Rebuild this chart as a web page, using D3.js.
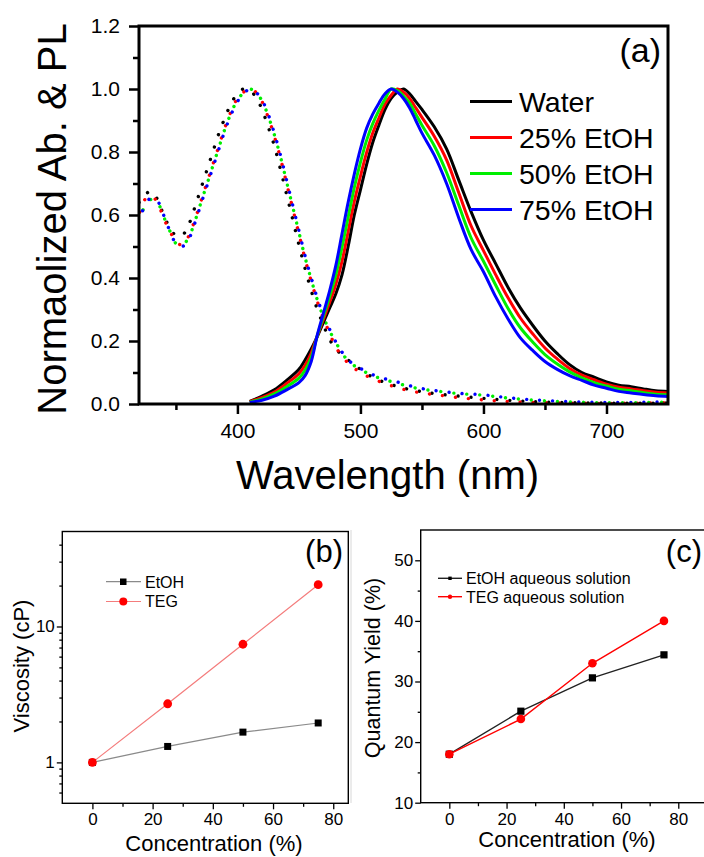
<!DOCTYPE html>
<html>
<head>
<meta charset="utf-8">
<script src="https://cdn.jsdelivr.net/npm/d3@7"></script>
<style>
  body { margin: 0; background: #fff; }
  svg { display: block; }
</style>
</head>
<body>
<svg id="fig" width="704" height="857"></svg>
<script>
// ---- panel (a): absorption (dotted) and PL (solid) spectra ----
var absWl = [320,325,330,335,340,345,350,355,360,365,370,375,380,385,390,395,400,405,410,415,420,425,430,435,440,445,450,455,460,465,470,475,480,490,500,510,520,530,540,550,560,580,600,620,650,700,750];
var absWater = [0.64,0.665,0.675,0.65,0.60,0.56,0.535,0.535,0.565,0.62,0.68,0.74,0.80,0.86,0.91,0.955,0.985,1.0,0.995,0.975,0.935,0.88,0.82,0.745,0.665,0.585,0.505,0.43,0.36,0.30,0.25,0.205,0.175,0.14,0.11,0.085,0.068,0.056,0.046,0.039,0.033,0.025,0.018,0.012,0.006,0.003,0.003];
var absE25 = [0.60,0.65,0.66,0.64,0.59,0.55,0.515,0.505,0.53,0.58,0.64,0.70,0.76,0.82,0.88,0.93,0.97,0.99,1.0,0.99,0.96,0.91,0.85,0.78,0.70,0.62,0.54,0.46,0.39,0.325,0.27,0.225,0.18,0.13,0.10,0.08,0.065,0.052,0.042,0.035,0.03,0.02,0.013,0.008,0.004,0.002,0.004];
var absE50 = [0.60,0.625,0.65,0.64,0.595,0.55,0.51,0.505,0.525,0.575,0.635,0.695,0.755,0.815,0.875,0.925,0.965,0.988,1.0,0.99,0.962,0.915,0.855,0.785,0.705,0.625,0.545,0.465,0.395,0.33,0.275,0.232,0.195,0.137,0.11,0.09,0.077,0.066,0.055,0.047,0.042,0.033,0.028,0.019,0.01,0.004,0.006];
var absE75 = [0.585,0.63,0.655,0.645,0.60,0.55,0.51,0.50,0.52,0.57,0.63,0.69,0.75,0.81,0.87,0.92,0.96,0.985,1.0,0.99,0.965,0.92,0.86,0.79,0.71,0.63,0.55,0.47,0.40,0.335,0.28,0.237,0.197,0.14,0.113,0.093,0.08,0.07,0.058,0.049,0.043,0.034,0.029,0.02,0.011,0.005,0.007];

var plWl = [410,420,430,440,450,455,460,465,470,475,480,485,490,495,500,505,510,515,520,525,530,535,540,545,550,560,570,580,590,600,610,620,630,640,650,660,670,680,690,700,710,720,730,740,750];
var plWater = [0.008,0.025,0.045,0.075,0.11,0.14,0.175,0.215,0.26,0.305,0.35,0.41,0.50,0.60,0.68,0.76,0.83,0.885,0.935,0.97,0.99,1.0,0.985,0.96,0.935,0.88,0.81,0.71,0.61,0.52,0.445,0.37,0.305,0.25,0.20,0.16,0.125,0.10,0.085,0.07,0.06,0.055,0.048,0.042,0.04];
var plE25 = [0.007,0.021,0.038,0.065,0.096,0.123,0.162,0.217,0.27,0.323,0.38,0.453,0.547,0.643,0.723,0.798,0.86,0.908,0.952,0.98,1.0,0.99,0.97,0.94,0.91,0.85,0.775,0.67,0.565,0.487,0.41,0.337,0.273,0.223,0.178,0.143,0.113,0.092,0.077,0.063,0.053,0.048,0.042,0.037,0.035];
var plE50 = [0.006,0.016,0.032,0.055,0.082,0.107,0.148,0.218,0.28,0.342,0.41,0.497,0.593,0.687,0.767,0.837,0.89,0.932,0.968,1.0,0.995,0.978,0.955,0.92,0.885,0.82,0.735,0.63,0.527,0.453,0.377,0.303,0.242,0.197,0.157,0.127,0.102,0.083,0.068,0.057,0.047,0.042,0.036,0.031,0.029];
var plE75 = [0.005,0.012,0.025,0.045,0.068,0.09,0.135,0.22,0.29,0.36,0.44,0.54,0.64,0.73,0.81,0.875,0.92,0.955,0.985,1.0,0.99,0.97,0.94,0.90,0.86,0.79,0.70,0.59,0.49,0.42,0.34,0.27,0.21,0.17,0.135,0.11,0.09,0.075,0.06,0.05,0.04,0.035,0.03,0.026,0.024];

var seriesNames = ["Water", "25% EtOH", "50% EtOH", "75% EtOH"];
var seriesColors = ["#000000", "#ff0000", "#00ee00", "#0000ff"];
var absSeries = [absWater, absE25, absE50, absE75];
var plSeries = [plWater, plE25, plE50, plE75];

var wlTicks = [400, 500, 600, 700];
var wlMinor = [350, 450, 550, 650];
var normTicks = [0, 0.2, 0.4, 0.6, 0.8, 1.0, 1.2];
var normMinor = [0.1, 0.3, 0.5, 0.7, 0.9, 1.1];

// ---- panels (b) and (c) ----
var conc = [0, 25, 50, 75];
var viscEtOH = [1.0, 1.31, 1.67, 1.95];
var viscTEG = [1.0, 2.7, 7.4, 20.3];
var qyEtOH = [18.0, 25.1, 30.6, 34.4];
var qyTEG = [18.0, 23.8, 33.0, 40.0];

var concTicks = [0, 20, 40, 60, 80];
var concMinor = [10, 30, 50, 70];
var viscTicks = [1, 10];
var viscMinor = [0.6, 0.7, 0.8, 0.9, 2, 3, 4, 5, 6, 7, 8, 9, 20, 30, 40];
var qyTicks = [10, 20, 30, 40, 50];
var qyMinor = [15, 25, 35, 45];

var FONT = '"Liberation Sans", Arial, Helvetica, sans-serif';
var svg = d3.select("#fig");

function styleAxis(g, fs, sw) {
    g.select(".domain").remove();
    g.selectAll(".tick line").attr("stroke", "#000").attr("stroke-width", sw);
    g.selectAll(".tick text").attr("font-size", fs).attr("font-family", FONT).attr("fill", "#000");
}

// ================= panel (a) =================
var A = {l: 139, r: 668, t: 26, b: 404};
var xA = d3.scaleLinear().domain([320, 750]).range([A.l, A.r]);
var yA = d3.scaleLinear().domain([0, 1.2]).range([A.b, A.t]);

svg.append("clipPath").attr("id", "clipA")
    .append("rect").attr("x", A.l).attr("y", A.t).attr("width", A.r - A.l).attr("height", A.b - A.t);

var gA = svg.append("g");
var plot = gA.append("g").attr("clip-path", "url(#clipA)");

var lineAbs = d3.line().curve(d3.curveCatmullRom)
    .x(function(d) { return xA(d[0]); })
    .y(function(d) { return yA(d[1]); });

for (var i = 0; i < absSeries.length; i++) {
    plot.append("path")
        .datum(absWl.map(function(w, k) { return [w, absSeries[i][k]]; }))
        .attr("fill", "none")
        .attr("stroke", seriesColors[i])
        .attr("stroke-width", 3.4)
        .attr("stroke-linecap", "round")
        .attr("stroke-dasharray", "0.01,13")
        .attr("stroke-dashoffset", -i * 3.2)
        .attr("d", lineAbs);
}

for (var i = 0; i < plSeries.length; i++) {
    plot.append("path")
        .datum(plWl.map(function(w, k) { return [w, plSeries[i][k]]; }))
        .attr("fill", "none")
        .attr("stroke", seriesColors[i])
        .attr("stroke-width", 3)
        .attr("stroke-linejoin", "round")
        .attr("d", lineAbs);
}

var axA = gA.append("g").attr("transform", "translate(0," + A.b + ")")
    .call(d3.axisBottom(xA).tickValues(wlTicks).tickSize(10).tickPadding(9).tickFormat(d3.format("d")));
styleAxis(axA, 21, 2.5);
var axA2 = gA.append("g").attr("transform", "translate(0," + A.b + ")")
    .call(d3.axisBottom(xA).tickValues(wlMinor).tickSize(6).tickFormat(""));
styleAxis(axA2, 21, 2.5);
var ayA = gA.append("g").attr("transform", "translate(" + A.l + ",0)")
    .call(d3.axisLeft(yA).tickValues(normTicks).tickSize(10).tickPadding(9).tickFormat(d3.format(".1f")));
styleAxis(ayA, 21, 2.5);
var ayA2 = gA.append("g").attr("transform", "translate(" + A.l + ",0)")
    .call(d3.axisLeft(yA).tickValues(normMinor).tickSize(6).tickFormat(""));
styleAxis(ayA2, 21, 2.5);

gA.append("rect")
    .attr("x", A.l).attr("y", A.t).attr("width", A.r - A.l).attr("height", A.b - A.t)
    .attr("fill", "none").attr("stroke", "#000").attr("stroke-width", 3);

gA.append("text")
    .attr("transform", "translate(66,219) rotate(-90)")
    .attr("text-anchor", "middle")
    .attr("font-family", FONT).attr("font-size", 40)
    .text("Normaolized Ab. & PL");

gA.append("text")
    .attr("x", (A.l + A.r) / 2 - 16).attr("y", 489)
    .attr("text-anchor", "middle")
    .attr("font-family", FONT).attr("font-size", 40)
    .text("Wavelength (nm)");

gA.append("text")
    .attr("x", 661).attr("y", 62)
    .attr("text-anchor", "end")
    .attr("font-family", FONT).attr("font-size", 34)
    .text("(a)");

// legend (a)
var legA = gA.append("g");
legA.selectAll("line.leg").data(seriesNames).enter().append("line")
    .attr("x1", 470).attr("x2", 512)
    .attr("y1", function(d, i) { return 101.5 + i * 36; })
    .attr("y2", function(d, i) { return 101.5 + i * 36; })
    .attr("stroke", function(d, i) { return seriesColors[i]; })
    .attr("stroke-width", 3);
legA.selectAll("text").data(seriesNames).enter().append("text")
    .attr("x", 519)
    .attr("y", function(d, i) { return 111.5 + i * 36; })
    .attr("font-family", FONT).attr("font-size", 28.5)
    .text(function(d) { return d; });

// ================= panel (b) =================
var B = {l: 62.3, r: 348.3, t: 531.5, b: 803.3};
var xB = d3.scaleLinear().domain([-10, 85]).range([B.l, B.r]);
var yB = d3.scaleLog().domain([0.5, 50]).range([B.b, B.t]);
var gB = svg.append("g");

var axB = gB.append("g").attr("transform", "translate(0," + B.b + ")")
    .call(d3.axisBottom(xB).tickValues(concTicks).tickSize(6).tickPadding(4).tickFormat(d3.format("d")));
styleAxis(axB, 17, 1.3);
var axB2 = gB.append("g").attr("transform", "translate(0," + B.b + ")")
    .call(d3.axisBottom(xB).tickValues(concMinor).tickSize(3.5).tickFormat(""));
styleAxis(axB2, 17, 1.3);
var ayB = gB.append("g").attr("transform", "translate(" + B.l + ",0)")
    .call(d3.axisLeft(yB).tickValues(viscTicks).tickSize(5.5).tickPadding(2).tickFormat(d3.format("d")));
styleAxis(ayB, 17, 1.3);
var ayB2 = gB.append("g").attr("transform", "translate(" + B.l + ",0)")
    .call(d3.axisLeft(yB).tickValues(viscMinor).tickSize(3).tickFormat(""));
styleAxis(ayB2, 17, 1.3);

gB.append("rect")
    .attr("x", B.l).attr("y", B.t).attr("width", B.r - B.l).attr("height", B.b - B.t)
    .attr("fill", "none").attr("stroke", "#000").attr("stroke-width", 1.4);

var lineB = d3.line().x(function(d) { return xB(d[0]); }).y(function(d) { return yB(d[1]); });
var bEt = conc.map(function(c, k) { return [c, viscEtOH[k]]; });
var bTeg = conc.map(function(c, k) { return [c, viscTEG[k]]; });

gB.append("path").datum(bEt).attr("fill", "none").attr("stroke", "#8a8a8a").attr("stroke-width", 1.2).attr("d", lineB);
gB.selectAll("rect.pt").data(bEt).enter().append("rect")
    .attr("x", function(d) { return xB(d[0]) - 3.5; })
    .attr("y", function(d) { return yB(d[1]) - 3.5; })
    .attr("width", 7).attr("height", 7).attr("fill", "#000");
gB.append("path").datum(bTeg).attr("fill", "none").attr("stroke", "#f47c7c").attr("stroke-width", 1.2).attr("d", lineB);
gB.selectAll("circle.pt").data(bTeg).enter().append("circle")
    .attr("cx", function(d) { return xB(d[0]); })
    .attr("cy", function(d) { return yB(d[1]); })
    .attr("r", 4.4).attr("fill", "#ff0000");

// legend (b)
gB.append("line").attr("x1", 106).attr("x2", 141).attr("y1", 581.7).attr("y2", 581.7).attr("stroke", "#8a8a8a").attr("stroke-width", 1.2);
gB.append("rect").attr("x", 120).attr("y", 578.5).attr("width", 6.5).attr("height", 6.5).attr("fill", "#000");
gB.append("text").attr("x", 145).attr("y", 587.5).attr("font-family", FONT).attr("font-size", 16).text("EtOH");
gB.append("line").attr("x1", 106).attr("x2", 141).attr("y1", 601.5).attr("y2", 601.5).attr("stroke", "#f47c7c").attr("stroke-width", 1.2);
gB.append("circle").attr("cx", 123.3).attr("cy", 601.5).attr("r", 4).attr("fill", "#ff0000");
gB.append("text").attr("x", 145).attr("y", 607.3).attr("font-family", FONT).attr("font-size", 16).text("TEG");

gB.append("text").attr("x", 343).attr("y", 562).attr("text-anchor", "end")
    .attr("font-family", FONT).attr("font-size", 31).text("(b)");
gB.append("text").attr("x", 214).attr("y", 851).attr("text-anchor", "middle")
    .attr("font-family", FONT).attr("font-size", 22).text("Concentration (%)");
gB.append("text").attr("transform", "translate(29,666) rotate(-90)").attr("text-anchor", "middle")
    .attr("font-family", FONT).attr("font-size", 22).text("Viscosity (cP)");

// faint border between the panels
svg.append("line").attr("x1", 351).attr("x2", 351).attr("y1", 530).attr("y2", 803)
    .attr("stroke", "#d8d8d8").attr("stroke-width", 1);

// ================= panel (c) =================
var C = {l: 420.7, r: 706.9, t: 530, b: 802.7};
var xC = d3.scaleLinear().domain([-10, 90]).range([C.l, C.r]);
var yC = d3.scaleLinear().domain([10, 55]).range([C.b, C.t]);
var gC = svg.append("g");

var axC = gC.append("g").attr("transform", "translate(0," + C.b + ")")
    .call(d3.axisBottom(xC).tickValues(concTicks).tickSize(6).tickPadding(4).tickFormat(d3.format("d")));
styleAxis(axC, 17, 1.3);
var axC2 = gC.append("g").attr("transform", "translate(0," + C.b + ")")
    .call(d3.axisBottom(xC).tickValues(concMinor).tickSize(3.5).tickFormat(""));
styleAxis(axC2, 17, 1.3);
var ayC = gC.append("g").attr("transform", "translate(" + C.l + ",0)")
    .call(d3.axisLeft(yC).tickValues(qyTicks).tickSize(5.5).tickPadding(2).tickFormat(d3.format("d")));
styleAxis(ayC, 17, 1.3);
var ayC2 = gC.append("g").attr("transform", "translate(" + C.l + ",0)")
    .call(d3.axisLeft(yC).tickValues(qyMinor).tickSize(3).tickFormat(""));
styleAxis(ayC2, 17, 1.3);

gC.append("rect")
    .attr("x", C.l).attr("y", C.t).attr("width", C.r - C.l).attr("height", C.b - C.t)
    .attr("fill", "none").attr("stroke", "#000").attr("stroke-width", 1.4);

var lineC = d3.line().x(function(d) { return xC(d[0]); }).y(function(d) { return yC(d[1]); });
var cEt = conc.map(function(c, k) { return [c, qyEtOH[k]]; });
var cTeg = conc.map(function(c, k) { return [c, qyTEG[k]]; });

gC.append("path").datum(cEt).attr("fill", "none").attr("stroke", "#222").attr("stroke-width", 1.4).attr("d", lineC);
gC.selectAll("rect.pt").data(cEt).enter().append("rect")
    .attr("x", function(d) { return xC(d[0]) - 3.6; })
    .attr("y", function(d) { return yC(d[1]) - 3.6; })
    .attr("width", 7.2).attr("height", 7.2).attr("fill", "#000");
gC.append("path").datum(cTeg).attr("fill", "none").attr("stroke", "#ff0000").attr("stroke-width", 1.4).attr("d", lineC);
gC.selectAll("circle.pt").data(cTeg).enter().append("circle")
    .attr("cx", function(d) { return xC(d[0]); })
    .attr("cy", function(d) { return yC(d[1]); })
    .attr("r", 4.3).attr("fill", "#ff0000");

// legend (c)
gC.append("line").attr("x1", 438).attr("x2", 462).attr("y1", 578.3).attr("y2", 578.3).attr("stroke", "#222").attr("stroke-width", 1.4);
gC.append("rect").attr("x", 448.3).attr("y", 576.6).attr("width", 3.4).attr("height", 3.4).attr("fill", "#000");
gC.append("text").attr("x", 466).attr("y", 584).attr("font-family", FONT).attr("font-size", 16).text("EtOH aqueous solution");
gC.append("line").attr("x1", 438).attr("x2", 462).attr("y1", 596.7).attr("y2", 596.7).attr("stroke", "#ff0000").attr("stroke-width", 1.4);
gC.append("circle").attr("cx", 450).attr("cy", 596.7).attr("r", 2.2).attr("fill", "#ff0000");
gC.append("text").attr("x", 466).attr("y", 602.5).attr("font-family", FONT).attr("font-size", 16).text("TEG aqueous solution");

gC.append("text").attr("x", 702).attr("y", 562).attr("text-anchor", "end")
    .attr("font-family", FONT).attr("font-size", 31).text("(c)");
gC.append("text").attr("x", 567).attr("y", 847).attr("text-anchor", "middle")
    .attr("font-family", FONT).attr("font-size", 22).text("Concentration (%)");
gC.append("text").attr("transform", "translate(380,668) rotate(-90)").attr("text-anchor", "middle")
    .attr("font-family", FONT).attr("font-size", 21.5).text("Quantum Yield (%)");
</script>
</body>
</html>
